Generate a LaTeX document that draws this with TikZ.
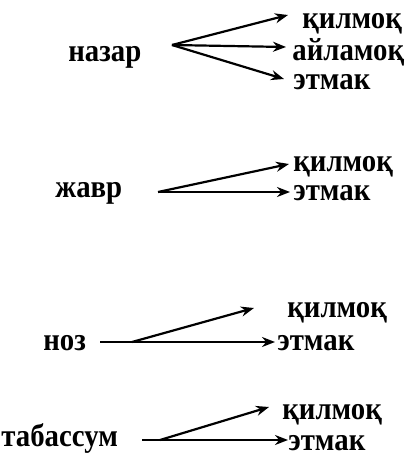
\documentclass[tikz,border=0pt]{standalone}
\usepackage{fontspec}
\setmainfont{Liberation Serif}[FakeStretch=0.9]
\usepackage{tikz}
\usetikzlibrary{arrows.meta,calc}
\tikzset{
    word/.style={font=\bfseries\fontsize{16}{16}\selectfont, inner sep=0pt, anchor=base west},
    arr/.style={-{Stealth[length=6.5pt,width=5pt]}, line width=1.1pt}
}

\begin{document}
\begin{tikzpicture}[x=0.5pt,y=-0.5pt]
			\useasboundingbox (0,0) rectangle (414,460);
			% назар
			\node[word] (nazar) at (68,62) {назар};
			\node[word] (kil1) at (302,29) {қилмоқ};
			\node[word] (ayl1) at (292,61) {айламоқ};
			\node[word] (etm1) at (293,90) {этмак};
			\coordinate (f1) at (172,45);
			\coordinate (t1a) at (288,15);
			\coordinate (t1b) at (286,47);
			\coordinate (t1c) at (284,79);
			\draw[arr] (f1) -- (t1a);
			\draw[arr] (f1) -- (t1b);
			\draw[arr] (f1) -- (t1c);

			% жавр
			\node[word] (javr) at (55,197) {жавр};
			\node[word] (kil2) at (293,171) {қилмоқ};
			\node[word] (etm2) at (293,200) {этмак};
			\coordinate (f2) at (158,192);
			\coordinate (t2a) at (289,164);
			\coordinate (t2b) at (290,192);
			\draw[arr] (f2) -- (t2a);
			\draw[arr] (f2) -- (t2b);

			% ноз
			\node[word] (noz) at (43,350) {ноз};
			\node[word] (kil3) at (287,317) {қилмоқ};
			\node[word] (etm3) at (277,350) {этмак};
			\coordinate (f3) at (100,342);
			\coordinate (b3) at (132,342);
			\coordinate (t3a) at (254,308);
			\coordinate (t3b) at (275,342);
			\draw[arr] (b3) -- (t3a);
			\draw[arr] (f3) -- (t3b);

			% табассум
			\node[word] (tab) at (1,446) {табассум};
			\node[word] (kil4) at (282,419) {қилмоқ};
			\node[word] (etm4) at (288,450) {этмак};
			\coordinate (f4) at (142,440);
			\coordinate (b4) at (160,440);
			\coordinate (t4a) at (269,407);
			\coordinate (t4b) at (288,440);
			\draw[arr] (b4) -- (t4a);
			\draw[arr] (f4) -- (t4b);
		\end{tikzpicture}
\end{document}
